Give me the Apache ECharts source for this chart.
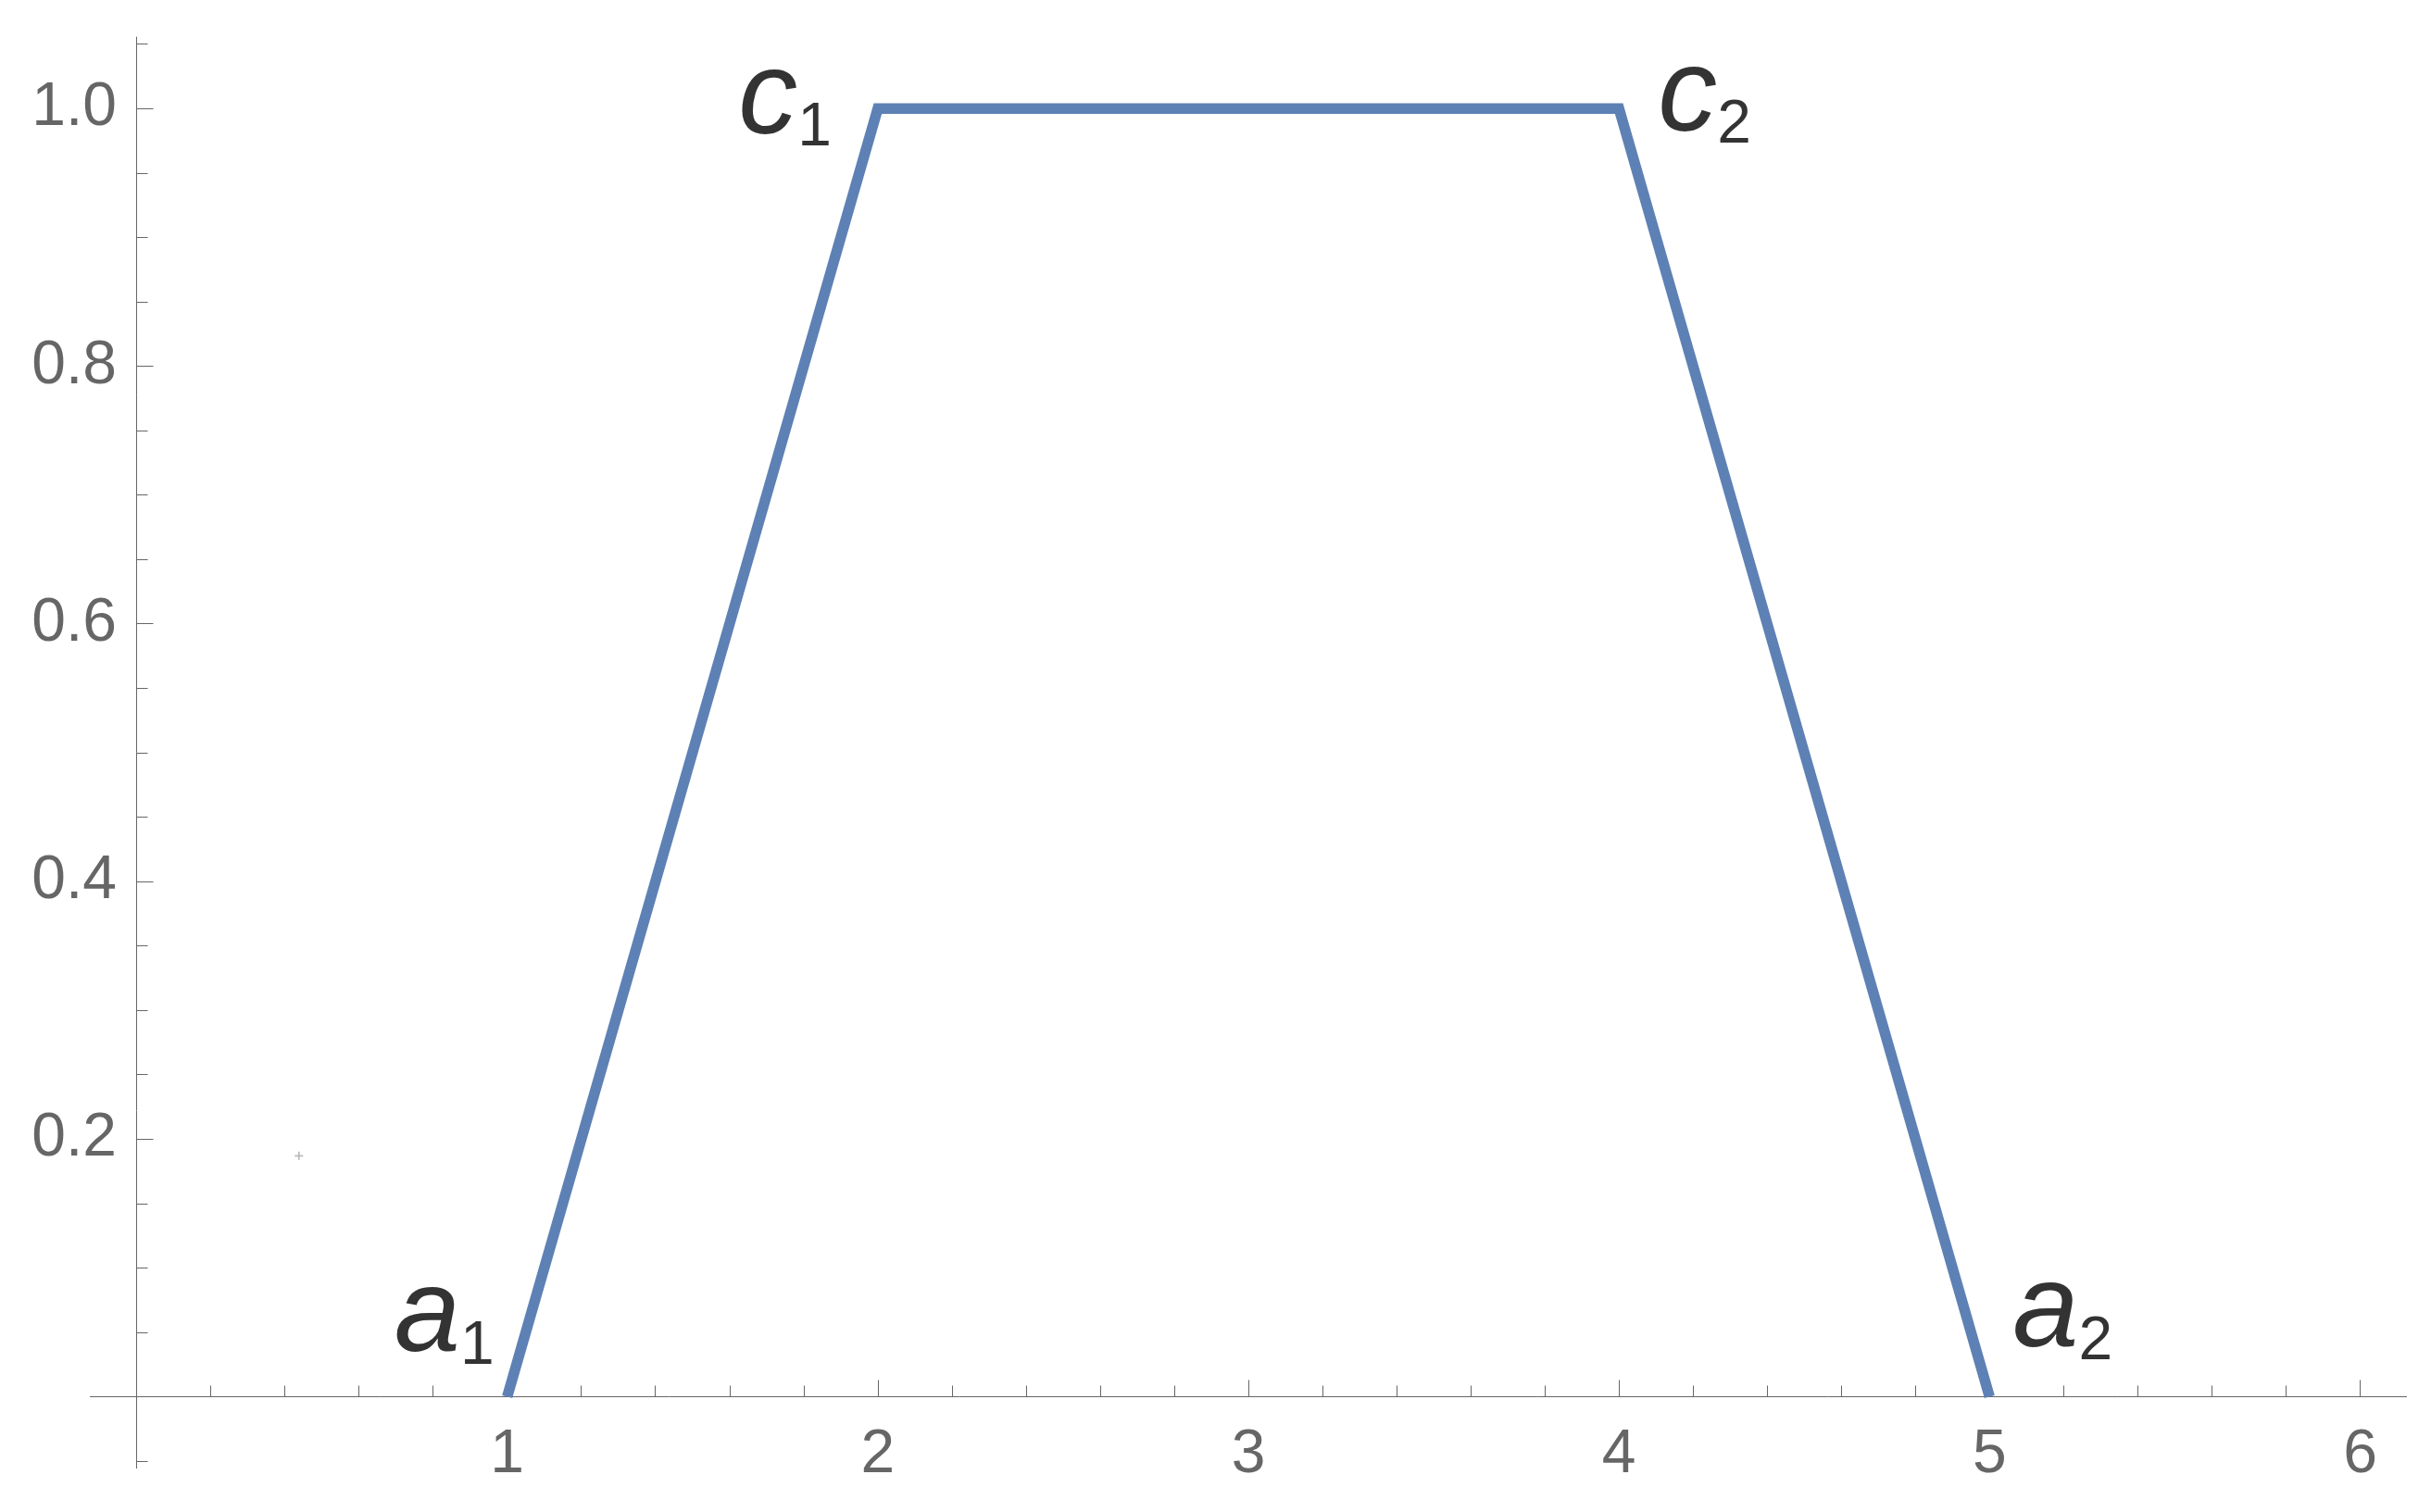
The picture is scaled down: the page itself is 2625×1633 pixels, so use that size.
<!DOCTYPE html>
<html>
<head>
<meta charset="utf-8">
<script src="https://cdn.jsdelivr.net/npm/echarts@6/dist/echarts.min.js"></script>
<style>
  html, body { margin: 0; padding: 0; background: #fff; }
  #chart { width: 2625px; height: 1633px; }
</style>
</head>
<body>
<div id="chart"></div>
<script>
// trapezoid membership function
const xValues = [1, 2, 4, 5];
const yValues = [0, 1, 1, 0];

// point names shown next to the corners
const pointLetters = ["a", "c", "c", "a"];
const pointSubs = ["1", "1", "2", "2"];

// tick positions
const xMajorTicks = [1, 2, 3, 4, 5, 6];
const xMinorTicks = [0.2, 0.4, 0.6, 0.8, 1.2, 1.4, 1.6, 1.8, 2.2, 2.4, 2.6, 2.8,
  3.2, 3.4, 3.6, 3.8, 4.2, 4.4, 4.6, 4.8, 5.2, 5.4, 5.6, 5.8];
const yMajorTicks = [0.2, 0.4, 0.6, 0.8, 1.0];
const yMinorTicks = [-0.05, 0.05, 0.1, 0.15, 0.25, 0.3, 0.35, 0.45, 0.5, 0.55,
  0.65, 0.7, 0.75, 0.85, 0.9, 0.95, 1.05];

// small stray mark left in the original figure
const strayPoint = [0.438, 0.187];

const axisGray = "#666666";
const font = "Liberation Sans";

// label placement per corner: [align, offsetX, offsetY]
const labelPlace = [
  ["right", -14, -21],
  ["right", -50, 55],
  ["left", 42, 52],
  ["left", 25, -26],
];

const chart = echarts.init(document.getElementById("chart"));

const lineData = xValues.map((x, i) => [x, yValues[i]]);
const labelData = xValues.map((x, i) => ({
  value: [x, yValues[i]],
  label: {
    show: true,
    position: [0, 0],
    align: labelPlace[i][0],
    verticalAlign: "bottom",
    offset: [labelPlace[i][1], labelPlace[i][2]],
    formatter: "{l|" + pointLetters[i] + "}{s|" + pointSubs[i] + "}",
  },
}));

function majorAxis(min, max, ticks, extra) {
  return Object.assign({
    type: "value",
    min: min,
    max: max,
    axisLine: { show: true, onZero: true, lineStyle: { color: axisGray, width: 1 } },
    axisTick: { show: true, inside: true, length: 18, customValues: ticks,
      lineStyle: { color: axisGray, width: 1 } },
    splitLine: { show: false },
  }, extra);
}

function minorAxis(min, max, ticks, extra) {
  return Object.assign({
    type: "value",
    min: min,
    max: max,
    axisLine: { show: false, onZero: true },
    axisTick: { show: true, inside: true, length: 12, customValues: ticks,
      lineStyle: { color: axisGray, width: 1 } },
    axisLabel: { show: false },
    splitLine: { show: false },
  }, extra);
}

const option = {
  backgroundColor: "#ffffff",
  animation: false,
  grid: { left: 97.5, right: 26.5, top: 40, bottom: 47.3, containLabel: false,
    outerBoundsMode: "none" },
  xAxis: [
    majorAxis(-0.125, 6.125, xMajorTicks, {
      position: "bottom",
      axisLabel: { customValues: xMajorTicks, fontSize: 66, color: axisGray,
        fontFamily: font, margin: -47 },
    }),
    minorAxis(-0.125, 6.125, xMinorTicks, { position: "bottom" }),
  ],
  yAxis: [
    majorAxis(-0.0555, 1.0555, yMajorTicks, {
      position: "left",
      axisLabel: { customValues: yMajorTicks, fontSize: 66, color: axisGray,
        fontFamily: font, margin: -28.5, formatter: (v) => v.toFixed(1) },
    }),
    minorAxis(-0.0555, 1.0555, yMinorTicks, { position: "left" }),
  ],
  series: [
    {
      type: "line",
      data: lineData,
      xAxisIndex: 0,
      yAxisIndex: 0,
      symbol: "none",
      lineStyle: { color: "#5E81B5", width: 11.5, join: "miter", cap: "butt" },
      z: 3,
    },
    {
      type: "scatter",
      data: labelData,
      symbolSize: 0,
      itemStyle: { color: "transparent" },
      label: {
        color: "#000",
        fontFamily: font,
        rich: {
          l: { fontSize: 128, fontStyle: "italic", fontFamily: font, color: "#000",
            lineHeight: 128, verticalAlign: "bottom" },
          s: { fontSize: 66, fontFamily: font, color: "#000",
            lineHeight: 109, verticalAlign: "bottom" },
        },
      },
      z: 4,
    },
    {
      type: "scatter",
      data: [strayPoint],
      symbol: "path://M4,0H6V4H10V6H6V10H4V6H0V4H4Z",
      symbolSize: 9,
      itemStyle: { color: "#aaaaaa" },
      z: 2,
    },
  ],
};

chart.setOption(option);
</script>
</body>
</html>
